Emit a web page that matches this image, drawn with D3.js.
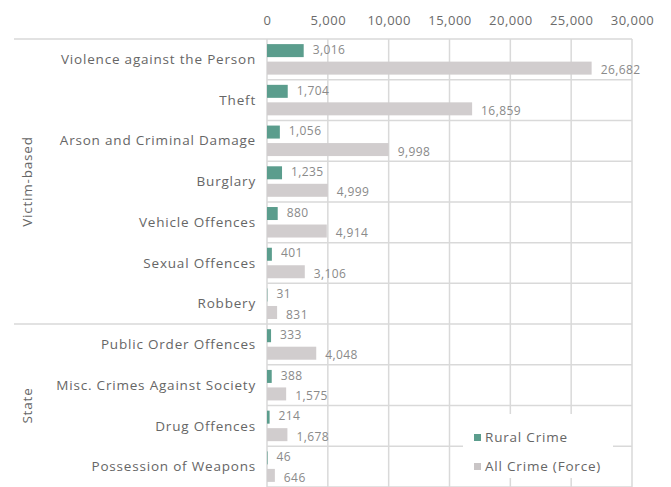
<!DOCTYPE html>
<html>
<head>
<meta charset="utf-8">
<script src="https://cdn.jsdelivr.net/npm/d3@7"></script>
<style>
  html, body { margin: 0; padding: 0; background: #fff; }
  svg { display: block; }
  text { font-family: "Century Gothic", "URW Gothic", "Open Sans", "Noto Sans", sans-serif; }
</style>
</head>
<body>
<svg id="chart" width="671" height="487"></svg>
<script>
const categories = [
  "Violence against the Person", "Theft", "Arson and Criminal Damage", "Burglary",
  "Vehicle Offences", "Sexual Offences", "Robbery", "Public Order Offences",
  "Misc. Crimes Against Society", "Drug Offences", "Possession of Weapons"
];
const ruralCrime = [3016, 1704, 1056, 1235, 880, 401, 31, 333, 388, 214, 46];
const allCrime = [26682, 16859, 9998, 4999, 4914, 3106, 831, 4048, 1575, 1678, 646];
const seriesNames = ["Rural Crime", "All Crime (Force)"];
const seriesColors = ["#5b9d8d", "#d1cdce"];
const groupNames = ["Victim-based", "State"];
const groupSizes = [7, 4];
const xTicks = [0, 5000, 10000, 15000, 20000, 25000, 30000];

(function () {
const svg = d3.select("#chart");
const mLeft = 267, mRight = 632, mTop = 39, mBottom = 487;
const x = d3.scaleLinear().domain([0, 30000]).range([mLeft, mRight]);
const y = d3.scaleBand().domain(categories).range([mTop, mBottom]).paddingInner(0).paddingOuter(0);
const ySub = d3.scaleBand().domain(seriesNames).range([0, y.bandwidth()]).paddingInner(0.257).paddingOuter(0.292);

const gridColor = "#d9d9d9";
const fmt = d3.format(",");

// vertical gridlines
svg.append("g").selectAll("line").data(xTicks).join("line")
  .attr("x1", d => x(d)).attr("x2", d => x(d))
  .attr("y1", mTop).attr("y2", mBottom)
  .attr("stroke", gridColor).attr("stroke-width", 1.5);

// horizontal row lines inside plot
const rowEdges = categories.map(c => y(c)).concat([mBottom]);
svg.append("g").selectAll("line").data(rowEdges).join("line")
  .attr("x1", mLeft).attr("x2", mRight)
  .attr("y1", d => d).attr("y2", d => d)
  .attr("stroke", gridColor).attr("stroke-width", 1.5);

// group separators extending into label area
let idx = 0;
const groupStarts = [];
groupSizes.forEach((n, i) => { groupStarts.push({name: groupNames[i], start: idx, end: idx + n}); idx += n; });
svg.append("g").selectAll("line").data(groupStarts).join("line")
  .attr("x1", 14).attr("x2", mLeft)
  .attr("y1", d => y(categories[d.start])).attr("y2", d => y(categories[d.start]))
  .attr("stroke", gridColor).attr("stroke-width", 1.5);

// top axis
const axis = d3.axisTop(x).tickValues(xTicks).tickFormat(fmt).tickSize(0).tickPadding(0);
const ag = svg.append("g").attr("transform", `translate(0,25)`).call(axis);
ag.select(".domain").remove();
ag.selectAll("text").attr("fill", "#6b6b6b").attr("font-size", 13)
  .attr("letter-spacing", 0.5)
  .attr("font-family", "\"Century Gothic\", \"URW Gothic\", \"Open Sans\", sans-serif");

// category labels
svg.append("g").selectAll("text").data(categories).join("text")
  .attr("x", 256).attr("y", d => y(d) + y.bandwidth() / 2 + 1)
  .attr("text-anchor", "end").attr("dominant-baseline", "middle")
  .attr("font-size", 13.5).attr("letter-spacing", 0.8).attr("fill", "#666")
  .text(d => d);

// group labels
svg.append("g").selectAll("text").data(groupStarts).join("text")
  .attr("transform", d => {
    const cy = (y(categories[d.start]) + (d.end >= categories.length ? mBottom : y(categories[d.end]))) / 2;
    return `translate(28,${cy}) rotate(-90)`;
  })
  .attr("text-anchor", "middle").attr("dominant-baseline", "middle")
  .attr("font-size", 13.5).attr("letter-spacing", 0.8).attr("fill", "#666")
  .text(d => d.name);

// bars
const data = categories.map((c, i) => ({cat: c, vals: [ruralCrime[i], allCrime[i]]}));
const rows = svg.append("g").selectAll("g").data(data).join("g")
  .attr("transform", d => `translate(0,${y(d.cat)})`);
rows.selectAll("rect").data(d => d.vals.map((v, j) => ({v, s: seriesNames[j], j}))).join("rect")
  .attr("x", x(0)).attr("y", d => ySub(d.s))
  .attr("width", d => x(d.v) - x(0)).attr("height", ySub.bandwidth())
  .attr("fill", d => seriesColors[d.j]);
rows.selectAll("text").data(d => d.vals.map((v, j) => ({v, s: seriesNames[j], j}))).join("text")
  .attr("x", d => x(d.v) + 9)
  .attr("y", d => ySub(d.s) + ySub.bandwidth() / 2 + (d.j === 1 ? 3 : 0))
  .attr("dominant-baseline", "middle")
  .attr("font-size", 12).attr("letter-spacing", 0.4).attr("fill", "#8a8a8a")
  .text(d => fmt(d.v));

// legend
const lg = svg.append("g");
lg.append("rect").attr("x", 463).attr("y", 414).attr("width", 150).attr("height", 64).attr("fill", "#fff");
seriesNames.forEach((s, i) => {
  const ly = 437 + i * 29;
  lg.append("rect").attr("x", 474).attr("y", ly - 3).attr("width", 7).attr("height", 7)
    .attr("fill", i === 1 ? "#c9c5c6" : seriesColors[i]);
  lg.append("text").attr("x", 485).attr("y", ly + 1).attr("dominant-baseline", "middle")
    .attr("font-size", 13.5).attr("letter-spacing", 0.8).attr("fill", "#666").text(s);
});
})();
</script>
</body>
</html>
